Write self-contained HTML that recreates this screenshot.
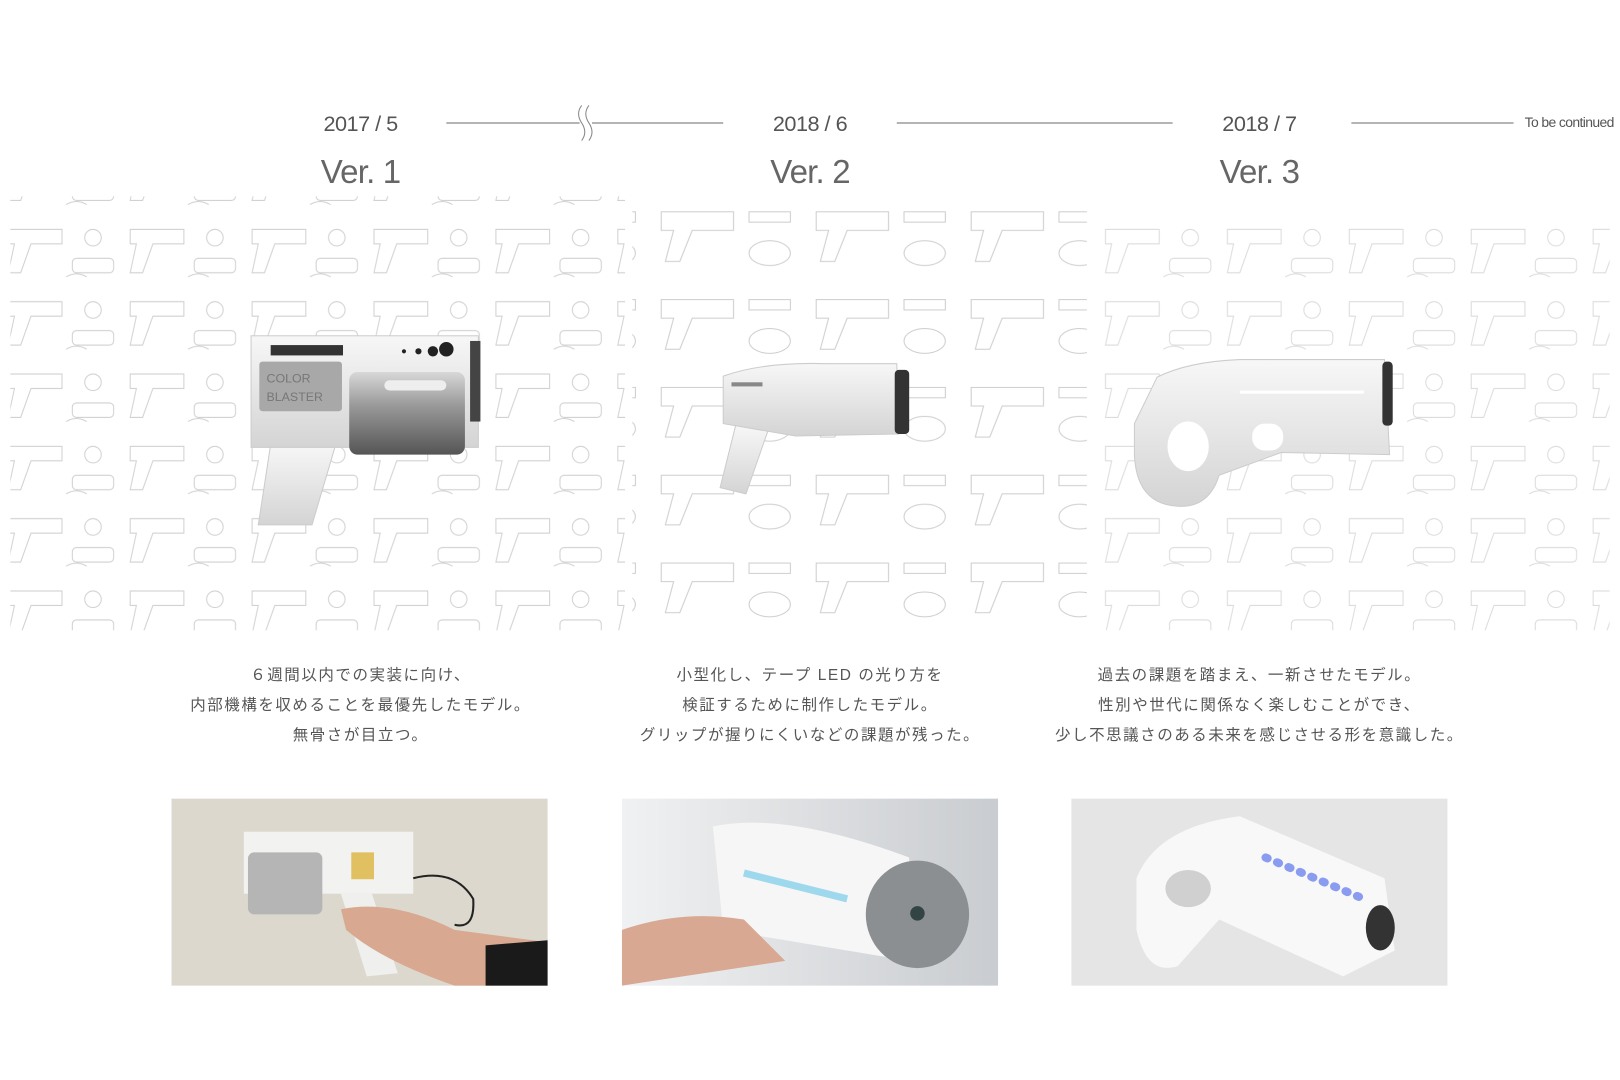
<!DOCTYPE html>
<html><head><meta charset="utf-8"><style>
html,body{margin:0;padding:0;background:#fff;}
svg{display:block;}
text{font-family:"Liberation Sans","Noto Sans CJK JP",sans-serif;}
</style></head><body>
<svg width="1620" height="1080" viewBox="0 0 1568 1045.3" xmlns="http://www.w3.org/2000/svg">
<defs>
<pattern id="sk" x="0" y="0" width="118" height="70" patternUnits="userSpaceOnUse">
 <g fill="none" stroke="#b8b8b8" stroke-width="1">
  <path d="M8 12 h52 v14 h-30 l-10 28 h-12 l6 -28 h-6 z"/>
  <rect x="70" y="40" width="40" height="14" rx="4"/>
  <circle cx="90" cy="20" r="8"/>
  <path d="M64 58 q10 -6 20 0"/>
 </g>
</pattern>
<pattern id="sk2" x="30" y="20" width="150" height="85" patternUnits="userSpaceOnUse">
 <g fill="none" stroke="#c4c4c4" stroke-width="1">
  <path d="M10 15 h70 v18 h-40 l-12 30 h-14 l8 -30 h-12 z"/>
  <ellipse cx="115" cy="55" rx="20" ry="12"/>
  <path d="M95 15 h40 v10 h-40 z"/>
 </g>
</pattern>
<linearGradient id="cyl" x1="0" y1="0" x2="0" y2="1"><stop offset="0" stop-color="#d8d8d8"/><stop offset=".4" stop-color="#9a9a9a"/><stop offset="1" stop-color="#555"/></linearGradient>
<linearGradient id="wb" x1="0" y1="0" x2="0" y2="1"><stop offset="0" stop-color="#f7f7f7"/><stop offset="1" stop-color="#d4d4d4"/></linearGradient>
<linearGradient id="p2" x1="0" y1="0" x2="1" y2="0"><stop offset="0" stop-color="#f0f1f2"/><stop offset="1" stop-color="#c9ccd0"/></linearGradient>
</defs>
<rect width="1568" height="1046" fill="#fff"/>
<!-- sketches -->
<rect x="10" y="190" width="595" height="420" fill="url(#sk)" opacity=".65"/>
<rect x="612" y="198" width="440" height="400" fill="url(#sk2)" opacity=".85"/>
<rect x="1068" y="200" width="490" height="410" fill="url(#sk)" opacity=".5"/>
<!-- timeline -->
<g fill="#555" font-size="21" text-anchor="middle" letter-spacing="-0.5">
<text x="349" y="127">2017 / 5</text>
<text x="784" y="127">2018 / 6</text>
<text x="1219" y="127">2018 / 7</text>
</g>
<g fill="#666" font-size="32" text-anchor="middle" letter-spacing="-0.8">
<text x="349" y="177">Ver. 1</text>
<text x="784" y="177">Ver. 2</text>
<text x="1219" y="177">Ver. 3</text>
</g>
<g stroke="#888" stroke-width="1.2" fill="none">
<line x1="432" y1="119" x2="700" y2="119"/>
<line x1="868" y1="119" x2="1135" y2="119"/>
<line x1="1308" y1="119" x2="1465" y2="119"/>
</g>
<rect x="561" y="112" width="12" height="14" fill="#fff"/>
<path d="M563 102 q-6 8 0 17 q6 9 0 17 M570 102 q-6 8 0 17 q6 9 0 17" stroke="#888" fill="none"/>
<text x="1562" y="123" font-size="13.5" fill="#555" text-anchor="end" letter-spacing="-0.6">To be continued</text>
<!-- Ver1 gun -->
<path d="M262 430 L325 430 L302 508 L250 508 Z" fill="url(#wb)" stroke="#ccc"/>
<rect x="243" y="325" width="220" height="108" fill="url(#wb)" stroke="#ccc"/>
<rect x="262" y="334" width="70" height="10" fill="#333"/>
<rect x="251" y="350" width="80" height="48" rx="3" fill="#a8a8a8"/>
<text x="258" y="370" font-size="12" fill="#777" font-family="Liberation Mono,monospace">COLOR</text>
<text x="258" y="388" font-size="12" fill="#777" font-family="Liberation Mono,monospace">BLASTER</text>
<rect x="338" y="360" width="112" height="80" rx="8" fill="url(#cyl)"/>
<rect x="372" y="368" width="60" height="10" rx="5" fill="#eee"/>
<circle cx="391" cy="340" r="2" fill="#222"/><circle cx="405" cy="340" r="3" fill="#222"/><circle cx="419" cy="340" r="5" fill="#222"/><circle cx="432" cy="338" r="7" fill="#222"/>
<rect x="455" y="330" width="10" height="78" fill="#444"/>
<!-- Ver2 gun -->
<path d="M712 412 L745 412 L722 478 L697 472 Z" fill="url(#wb)" stroke="#ccc"/>
<path d="M700 364 Q740 350 800 352 L868 352 L870 420 L770 422 L700 410 Z" fill="url(#wb)" stroke="#ccc"/>
<rect x="866" y="358" width="14" height="62" rx="4" fill="#333"/>
<rect x="708" y="370" width="30" height="4" fill="#888"/>
<!-- Ver3 gun -->
<path d="M1120 365 Q1150 350 1200 348 L1340 348 L1345 440 L1240 438 L1180 460 Q1170 492 1140 490 Q1100 488 1098 440 L1098 410 Z" fill="url(#wb)" stroke="#ccc"/>
<ellipse cx="1150" cy="432" rx="20" ry="24" fill="#fff"/>
<rect x="1212" y="410" width="30" height="26" rx="12" fill="#fff"/>
<rect x="1200" y="378" width="120" height="3" fill="#fff"/>
<rect x="1338" y="350" width="10" height="62" rx="4" fill="#333"/>
<!-- descriptions -->
<g fill="#555" font-size="15" text-anchor="middle" letter-spacing="1.5">
<text x="349" y="658">６週間以内での実装に向け、</text>
<text x="349" y="687">内部機構を収めることを最優先したモデル。</text>
<text x="349" y="716">無骨さが目立つ。</text>
<text x="784" y="658">小型化し、テープ LED の光り方を</text>
<text x="784" y="687">検証するために制作したモデル。</text>
<text x="784" y="716">グリップが握りにくいなどの課題が残った。</text>
<text x="1219" y="658">過去の課題を踏まえ、一新させたモデル。</text>
<text x="1219" y="687">性別や世代に関係なく楽しむことができ、</text>
<text x="1219" y="716">少し不思議さのある未来を感じさせる形を意識した。</text>
</g>
<!-- photos -->
<rect x="166" y="773" width="364" height="181" fill="#dcd8cd"/>
<rect x="236" y="805" width="164" height="60" fill="#f2f2f0"/>
<rect x="240" y="825" width="72" height="60" rx="6" fill="#b5b5b5"/>
<path d="M330 865 L360 865 L385 942 L355 945 Z" fill="#efefed"/>
<path d="M330 880 Q380 870 440 900 L530 912 L530 954 L440 954 Q370 930 335 900 Z" fill="#d8a890"/>
<path d="M470 915 L530 910 L530 954 L470 954 Z" fill="#1a1a1a"/>
<rect x="340" y="825" width="22" height="26" fill="#e0c060"/>
<path d="M400 850 Q440 840 458 870 Q460 900 440 895" stroke="#222" stroke-width="2" fill="none"/>
<rect x="602" y="773" width="364" height="181" fill="url(#p2)"/>
<path d="M690 800 Q760 785 880 830 L880 930 L700 900 Z" fill="#f6f6f6"/>
<ellipse cx="888" cy="885" rx="50" ry="52" fill="#8c8f92"/>
<circle cx="888" cy="884" r="7" fill="#344"/>
<path d="M720 845 L820 870" stroke="#9ed8ec" stroke-width="7"/>
<path d="M602 900 Q660 880 720 890 L760 930 L602 954 Z" fill="#d9a892"/>
<rect x="1037" y="773" width="364" height="181" fill="#e5e5e5"/>
<path d="M1100 850 Q1120 800 1200 790 L1340 850 L1350 920 L1300 945 L1180 890 L1140 935 Q1110 945 1100 900 Z" fill="#f8f8f8"/>
<ellipse cx="1150" cy="860" rx="22" ry="18" fill="#d0d0d0"/>
<path d="M1225 830 L1320 870" stroke="#8a9cf0" stroke-width="8" stroke-linecap="round" stroke-dasharray="2 10"/>
<ellipse cx="1336" cy="898" rx="14" ry="22" fill="#333"/>
</svg>
</body></html>
